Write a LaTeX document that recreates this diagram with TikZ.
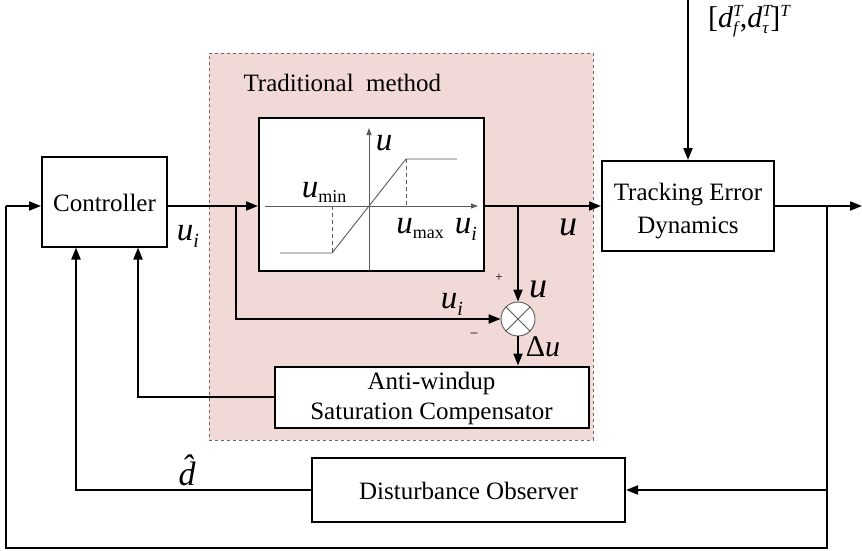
\documentclass[tikz,border=0pt]{standalone}
\usepackage{fontspec}
\setmainfont{Liberation Serif}
\usetikzlibrary{arrows.meta}

\definecolor{tradfill}{RGB}{241,217,215}
\definecolor{tradedge}{RGB}{120,100,100}
\definecolor{curvegray}{RGB}{90,90,90}

% font size helper and italic variable, sizes in pt
\newcommand{\fs}[1]{\fontsize{#1}{#1}\selectfont}
\newcommand{\var}[2]{{\fs{#1}\itshape #2}}
% superscript T over a subscript, both set after the base letter
\newcommand{\supsub}[1]{\rlap{\raisebox{11pt}{\var{17}{T}}}\raisebox{-6pt}{\var{17}{#1}}\hspace{2pt}}

\begin{document}
\begin{tikzpicture}[x=1pt,y=-1pt,
  blk/.style={draw,line width=2pt,fill=white,inner sep=0pt},
  boxtext/.style={font=\fontsize{25}{31}\selectfont,align=center},
  wire/.style={line width=2pt},
  arr/.style={wire,-{Triangle[length=12pt,width=9pt]}},
  thin/.style={line width=0.9pt,curvegray},
  guide/.style={thin,dashed,dash pattern=on 4pt off 3pt}]

\useasboundingbox (0,0) rectangle (862,551);

% traditional method region
\node[draw=tradedge,dashed,line width=0.8pt,fill=tradfill,minimum width=384pt,minimum height=387pt,anchor=north west,inner sep=0pt] (trad) at (209,53) {};
\node[boxtext,anchor=west] (tradlbl) at (240,83) {Traditional\ \ method};

% blocks
\node[blk,minimum width=125pt,minimum height=90pt] (ctrl) at (104.5,201.5) {};
\node[boxtext] (ctrltxt) at (104.5,203) {Controller};
\node[blk,minimum width=225pt,minimum height=153pt] (sat) at (371.5,194.5) {};
\node[blk,minimum width=172pt,minimum height=90pt] (track) at (688,206) {};
\node[boxtext,font=\fontsize{25}{33}\selectfont] (tracktxt) at (688,211) {Tracking Error\\Dynamics};
\node[blk,minimum width=314pt,minimum height=61pt] (aw) at (431.5,397) {};
\node[boxtext,font=\fontsize{25}{30}\selectfont] (awtxt) at (431.5,398) {Anti-windup\\Saturation Compensator};
\node[blk,minimum width=313pt,minimum height=64pt] (dob) at (468.5,490) {};
\node[boxtext] (dobtxt) at (468.5,491) {Disturbance Observer};

% summing junction
\node[circle,draw=curvegray,line width=0.9pt,fill=white,minimum size=34pt,inner sep=0pt] (sum) at (518,319) {};
\draw[thin] (sum.north west) -- (sum.south east);
\draw[thin] (sum.north east) -- (sum.south west);

% saturation characteristic
\draw[thin,-{Triangle[length=7pt,width=5pt]}] (265,206) -- (478,206);
\draw[thin,-{Triangle[length=7pt,width=5pt]}] (369,271) -- (369,128);
\draw[thin] (280,253) -- (332,253) -- (406,159) -- (457,159);
\draw[guide] (332,206) -- (332,253);
\draw[guide] (406,159) -- (406,206);
\node (lu) at (384,143) {\var{33}{u}};
\node (lumin) at (324,192) {\var{33}{u}\raisebox{-5pt}{\fs{18}min}};
\node (lumax) at (420,229) {\var{33}{u}\raisebox{-5pt}{\fs{18}max}};
\node (lui) at (466,229) {\var{33}{u}\raisebox{-7pt}{\var{20}{i}}};

% forward path
\coordinate (start) at (6,206);
\coordinate (b1) at (236,206);
\coordinate (b2) at (518,206);
\coordinate (b3) at (827,206);
\coordinate (outend) at (862,206);
\draw[arr] (start) -- (start -| ctrl.west);
\draw[arr] (b1 -| ctrl.east) -- (b1 -| sat.west);
\draw[arr] (b1 -| sat.east) -- (track.west);
\draw[arr] (track.east) -- (outend);
\draw[arr] (b1) |- (sum.west);
\draw[arr] (b2) -- (sum.north);
\draw[arr] (sum.south) -- (aw.north -| sum.south);

% disturbance input
\coordinate (dtop) at (688,0);
\draw[arr] (dtop) -- (track.north);
\node (dlbl) at (749,21) {\fs{30}[\var{30}{d}\supsub{f},\var{30}{d}\supsub{τ}]\raisebox{11pt}{\var{17}{T}}};

% anti-windup feedback
\coordinate (awc) at (138,397);
\draw[arr] (aw.west) -- (awc) -- (ctrl.south -| awc);

% observer loop
\coordinate (obsr) at (827,490);
\coordinate (bot) at (827,548);
\coordinate (botl) at (6,548);
\coordinate (obsl) at (76,490);
\draw[arr] (b3) -- (obsr) -- (dob.east);
\draw[wire] (obsr) -- (bot) -- (botl) -- (start);
\draw[arr] (dob.west) -- (obsl) -- (ctrl.south -| obsl);

% signal labels
\node (uilbl) at (188,236) {\var{33}{u}\raisebox{-7pt}{\var{20}{i}}};
\node (ulbl) at (568,227) {\var{36}{u}};
\node (uilbl2) at (452,304) {\var{33}{u}\raisebox{-7pt}{\var{20}{i}}};
\node (ulbl2) at (538,289) {\var{36}{u}};
\node (dulbl) at (543,347) {\fs{30}Δ\itshape u};
\node (plus) at (499,278) {\fs{13}+};
\node (minus) at (474,336) {\fs{15}−};
\node (dhat) at (187,470) {\fs{34}\itshape\^{d}};
\end{tikzpicture}
\end{document}
